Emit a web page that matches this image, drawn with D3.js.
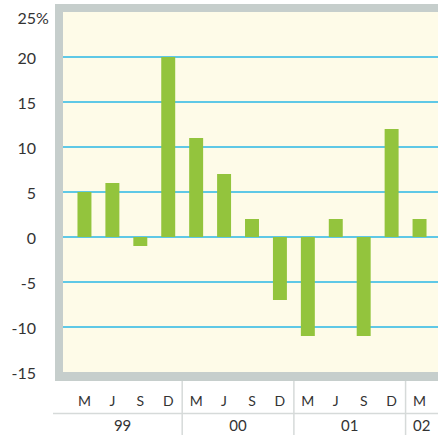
<!DOCTYPE html>
<html>
<head>
<meta charset="utf-8">
<script src="https://cdn.jsdelivr.net/npm/d3@7"></script>
<style>
  body { margin: 0; background: #ffffff; }
  svg text { font-family: Lato, "DejaVu Sans", sans-serif; fill: #333333; }
</style>
</head>
<body>
<div id="chart"></div>
<script>
// quarterly periods, grouped by year
var periods = ["99-M", "99-J", "99-S", "99-D", "00-M", "00-J", "00-S", "00-D", "01-M", "01-J", "01-S", "01-D", "02-M"];
var monthLabels = ["M", "J", "S", "D", "M", "J", "S", "D", "M", "J", "S", "D", "M"];
var values = [5, 6, -1, 20, 11, 7, 2, -7, -11, 2, -11, 12, 2];
var years = ["99", "00", "01", "02"];
var yearStart = [0, 4, 8, 12]; // index of first period in each year
var yTicks = [25, 20, 15, 10, 5, 0, -5, -10, -15];

var svgWidth = 438, svgHeight = 435;
var plot = { left: 63, top: 12, right: 438, bottom: 372 };

var svg = d3.select("#chart").append("svg")
    .attr("width", svgWidth)
    .attr("height", svgHeight);

var y = d3.scaleLinear().domain([-15, 25]).range([plot.bottom, plot.top]);
var x = d3.scaleBand().domain(periods)
    .range([70.5, 433.5])
    .paddingInner(0.5)
    .paddingOuter(0.25);

// gray frame (left, top, bottom)
svg.append("rect")
    .attr("x", 55).attr("y", 4)
    .attr("width", svgWidth - 55).attr("height", 381 - 4)
    .attr("fill", "#c6cecc");

// cream plot area
svg.append("rect")
    .attr("x", plot.left).attr("y", plot.top)
    .attr("width", plot.right - plot.left).attr("height", plot.bottom - plot.top)
    .attr("fill", "#fefbe8");

// gridlines
svg.append("g")
    .selectAll("line")
    .data(yTicks.filter(function (d) { return d > -15 && d < 25; }))
    .join("line")
    .attr("x1", plot.left).attr("x2", plot.right)
    .attr("y1", function (d) { return y(d); })
    .attr("y2", function (d) { return y(d); })
    .attr("stroke", "#2ab7e6")
    .attr("stroke-width", 1.5);

// bars
svg.append("g")
    .selectAll("rect")
    .data(values)
    .join("rect")
    .attr("x", function (d, i) { return x(periods[i]); })
    .attr("width", x.bandwidth())
    .attr("y", function (d) { return y(Math.max(0, d)); })
    .attr("height", function (d) { return Math.abs(y(d) - y(0)); })
    .attr("fill", "#93c43d");

// y labels
var yLab = svg.append("g");
yLab.selectAll("text")
    .data(yTicks)
    .join("text")
    .attr("x", 36)
    .attr("y", function (d) { return y(d) + (d === 25 ? 6 : 1); })
    .attr("dy", "0.35em")
    .attr("text-anchor", "end")
    .style("font-size", "16px")
    .text(function (d) { return d; });
yLab.append("text")
    .attr("x", 36)
    .attr("y", y(25) + 6)
    .attr("dy", "0.35em")
    .style("font-size", "16px")
    .text("%");

// month labels
svg.append("g")
    .selectAll("text")
    .data(periods)
    .join("text")
    .attr("x", function (d) { return x(d) + x.bandwidth() / 2; })
    .attr("y", 401)
    .attr("dy", "0.35em")
    .attr("text-anchor", "middle")
    .style("font-size", "14px")
    .text(function (d, i) { return monthLabels[i]; });

// separators
var sepColor = "#d6dad9";
svg.append("line")
    .attr("x1", 53).attr("x2", svgWidth)
    .attr("y1", 413.5).attr("y2", 413.5)
    .attr("stroke", sepColor).attr("stroke-width", 1.5);

var step = x.step();
var yearBounds = yearStart.map(function (s) {
    return x(periods[s]) - step * 0.25;
});
svg.append("g")
    .selectAll("line")
    .data(yearBounds.slice(1))
    .join("line")
    .attr("x1", function (d) { return d; })
    .attr("x2", function (d) { return d; })
    .attr("y1", 381).attr("y2", 435)
    .attr("stroke", sepColor).attr("stroke-width", 1.5);

// year labels, centred on the visible part of each year
svg.append("g")
    .selectAll("text")
    .data(years)
    .join("text")
    .attr("x", function (d, i) {
        var a = i === 0 ? plot.left : yearBounds[i];
        var b = i === years.length - 1 ? svgWidth : yearBounds[i + 1];
        return (a + b) / 2;
    })
    .attr("y", 425.5)
    .attr("dy", "0.35em")
    .attr("text-anchor", "middle")
    .style("font-size", "15px")
    .text(function (d) { return d; });
</script>
</body>
</html>
